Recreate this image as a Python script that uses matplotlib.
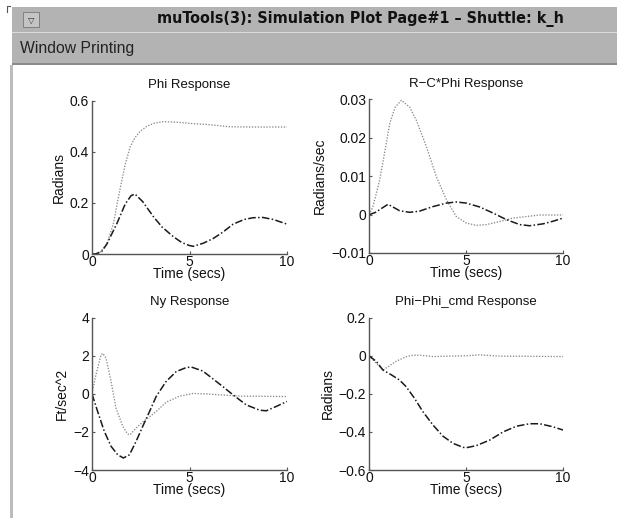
import matplotlib
matplotlib.use("Agg")
import matplotlib.pyplot as plt
from matplotlib.patches import Rectangle

plt.rcParams['font.family'] = ['Liberation Sans', 'DejaVu Sans']

W, H = 617, 521

# window texts
window_title = "muTools(3): Simulation Plot Page#1 \u2013 Shuttle: k_h"
menu_text = "Window Printing"

# Phi Response
phi_dot_t = [0, 0.34, 0.77, 1.1, 1.4, 1.7, 1.96, 2.2, 2.47, 2.81, 3.2, 3.66, 4.5, 5.2, 5.9, 7.07, 8.0, 10]
phi_dot_v = [0, 0, 0.04, 0.12, 0.24, 0.35, 0.42, 0.455, 0.48, 0.50, 0.512, 0.518, 0.515, 0.51, 0.507, 0.498, 0.497, 0.497]
phi_dd_t = [0, 0.17, 0.5, 0.77, 1.28, 1.7, 2.0, 2.2, 2.6, 3.15, 3.6, 4.17, 4.6, 5.0, 5.2, 5.7, 6.2, 6.7, 7.24, 7.8, 8.26, 8.77, 9.3, 10]
phi_dd_v = [0, 0, 0.01, 0.04, 0.12, 0.195, 0.228, 0.235, 0.205, 0.146, 0.105, 0.068, 0.045, 0.033, 0.03, 0.042, 0.06, 0.085, 0.117, 0.135, 0.142, 0.143, 0.135, 0.117]

# R-C*Phi Response
rc_dot_t = [0, 0.2, 0.55, 0.8, 1.07, 1.35, 1.67, 2.1, 2.44, 2.96, 3.47, 3.99, 4.5, 5.02, 5.53, 6.05, 6.74, 7.42, 8.1, 8.8, 10]
rc_dot_v = [0, 0.002, 0.009, 0.016, 0.0238, 0.028, 0.0298, 0.028, 0.0246, 0.0177, 0.0099, 0.0039, -0.0005, -0.0022, -0.0028, -0.0026, -0.0018, -0.0009, -0.0005, -0.0001, -0.0001]
rc_dd_t = [0, 0.3, 0.55, 0.98, 1.3, 1.58, 2.1, 2.6, 3.3, 3.99, 4.5, 5.02, 5.7, 6.4, 7.08, 7.77, 8.28, 8.97, 9.5, 10]
rc_dd_v = [0, 0.0005, 0.0013, 0.0027, 0.0018, 0.001, 0.0006, 0.0009, 0.0021, 0.003, 0.0033, 0.003, 0.002, 0.0004, -0.0013, -0.0026, -0.0029, -0.0024, -0.0017, -0.0009]

# Ny Response
ny_dot_t = [0, 0.2, 0.46, 0.55, 0.72, 0.98, 1.23, 1.58, 1.83, 1.95, 2.26, 2.6, 2.95, 3.29, 3.8, 4.49, 5.17, 5.86, 6.54, 7.57, 10]
ny_dot_v = [0, 1.0, 2.04, 2.13, 1.87, 0.65, -0.75, -1.71, -2.11, -2.15, -1.8, -1.48, -1.2, -0.93, -0.44, -0.12, 0.02, 0.0, -0.05, -0.12, -0.14]
ny_dd_t = [0, 0.29, 0.63, 0.98, 1.32, 1.61, 1.92, 2.26, 2.6, 2.95, 3.29, 3.8, 4.32, 4.83, 5.09, 5.68, 6.2, 6.71, 7.23, 7.91, 8.6, 8.94, 9.45, 10]
ny_dd_v = [0, -0.93, -1.97, -2.76, -3.2, -3.37, -3.2, -2.5, -1.71, -0.93, -0.14, 0.65, 1.17, 1.38, 1.41, 1.2, 0.79, 0.38, -0.05, -0.58, -0.86, -0.89, -0.66, -0.4]

# Phi-Phi_cmd Response
pc_dot_t = [0, 0.38, 0.72, 0.98, 1.41, 1.92, 2.27, 2.61, 3.3, 5.02, 5.7, 6.74, 10]
pc_dot_v = [0, -0.04, -0.075, -0.058, -0.028, -0.005, 0.003, 0.003, -0.004, 0.0, 0.005, -0.002, -0.004]
pc_dd_t = [0, 0.38, 0.72, 1.15, 1.58, 1.92, 2.35, 2.78, 3.3, 3.81, 4.33, 4.85, 5.02, 5.53, 6.22, 6.91, 7.6, 8.28, 8.8, 9.48, 10]
pc_dd_v = [0, -0.03, -0.075, -0.1, -0.128, -0.163, -0.224, -0.294, -0.364, -0.422, -0.46, -0.481, -0.483, -0.472, -0.443, -0.4, -0.37, -0.357, -0.357, -0.373, -0.39]

panels = [
    ("Phi Response", "Radians", (0, 0.6), [0, 0.2, 0.4, 0.6], ["0", "0.2", "0.4", "0.6"],
     (phi_dot_t, phi_dot_v), (phi_dd_t, phi_dd_v), (92, 100.7, 287, 254)),
    ("R\u2212C*Phi Response", "Radians/sec", (-0.01, 0.03), [-0.01, 0, 0.01, 0.02, 0.03],
     ["\u22120.01", "0", "0.01", "0.02", "0.03"],
     (rc_dot_t, rc_dot_v), (rc_dd_t, rc_dd_v), (369, 99.5, 563, 253)),
    ("Ny Response", "Ft/sec^2", (-4, 4), [-4, -2, 0, 2, 4], ["\u22124", "\u22122", "0", "2", "4"],
     (ny_dot_t, ny_dot_v), (ny_dd_t, ny_dd_v), (92, 317.7, 287, 470)),
    ("Phi\u2212Phi_cmd Response", "Radians", (-0.6, 0.2), [-0.6, -0.4, -0.2, 0, 0.2],
     ["\u22120.6", "\u22120.4", "\u22120.2", "0", "0.2"],
     (pc_dot_t, pc_dot_v), (pc_dd_t, pc_dd_v), (369, 317.7, 563, 470)),
]

fig = plt.figure(figsize=(W / 100, H / 100), dpi=100)
fig.patch.set_facecolor("white")


def frac_rect(x0, y0, x1, y1):
    # pixel box (from top-left) to figure fractions
    return [x0 / W, 1 - y1 / H, (x1 - x0) / W, (y1 - y0) / H]


# window chrome
for (x0, y0, x1, y1, col) in [(12, 7, 617, 32, "#b3b3b3"), (12, 32, 617, 33.5, "#dcdcdc"),
                              (12, 33.5, 617, 63, "#b3b3b3"), (12, 63, 617, 65, "#8a8a8a"),
                              (10, 65, 13, 518, "#bcbcbc"), (23, 12, 39, 27, "#c4c4c4")]:
    r = frac_rect(x0, y0, x1, y1)
    fig.patches.append(Rectangle((r[0], r[1]), r[2], r[3], transform=fig.transFigure,
                                 facecolor=col, edgecolor="none", zorder=0))
r = frac_rect(23, 12, 39, 27)
fig.patches.append(Rectangle((r[0], r[1]), r[2], r[3], transform=fig.transFigure,
                             facecolor="none", edgecolor="#777777", linewidth=0.6, zorder=1))
fig.text(31 / W, 1 - 20 / H, "\u25bd", ha="center", va="center", fontsize=6,
         family=["DejaVu Sans"], color="#333333")
fig.add_artist(plt.Line2D([7 / W, 7 / W, 10 / W], [1 - 12 / H, 1 - 6 / H, 1 - 6 / H],
                          transform=fig.transFigure, color="#555555", linewidth=0.8))
fig.text(360 / W, 1 - 19 / H, window_title, ha="center", va="center", fontsize=11.5,
         fontweight="bold", family=["DejaVu Sans"], stretch="condensed", color="#111111")
fig.text(20 / W, 1 - 48 / H, menu_text, ha="left", va="center", fontsize=11.3, color="#222222")

for (title, ylabel, ylim, yt, ytl, dot, dd, box) in panels:
    ax = fig.add_axes(frac_rect(*box))
    ax.plot(dot[0], dot[1], color="#8a8a8a", linestyle=(0, (1, 1.2)), linewidth=0.95)
    ax.plot(dd[0], dd[1], color="#1a1a1a", linestyle=(0, (5, 1.5, 1, 1.5)), linewidth=1.1)
    ax.set_xlim(0, 10)
    ax.set_ylim(*ylim)
    ax.set_xticks([0, 5, 10])
    ax.set_xticklabels(["0", "5", "10"])
    ax.set_yticks(yt)
    ax.set_yticklabels(ytl)
    for s in ("top", "right"):
        ax.spines[s].set_visible(False)
    for s in ("left", "bottom"):
        ax.spines[s].set_color("#555555")
        ax.spines[s].set_linewidth(1.0)
    ax.tick_params(direction="in", length=2.5, width=0.8, color="#555555",
                   labelsize=10, labelcolor="#111111", pad=2)
    ax.tick_params(axis="x", pad=0.5)
    ax.set_title(title, fontsize=9.5, pad=9, color="#111111")
    ax.set_xlabel("Time (secs)", fontsize=10, labelpad=-1, color="#111111")
    ax.set_ylabel(ylabel, fontsize=10, labelpad=3, color="#111111")

fig.savefig("out.png", dpi=100)
